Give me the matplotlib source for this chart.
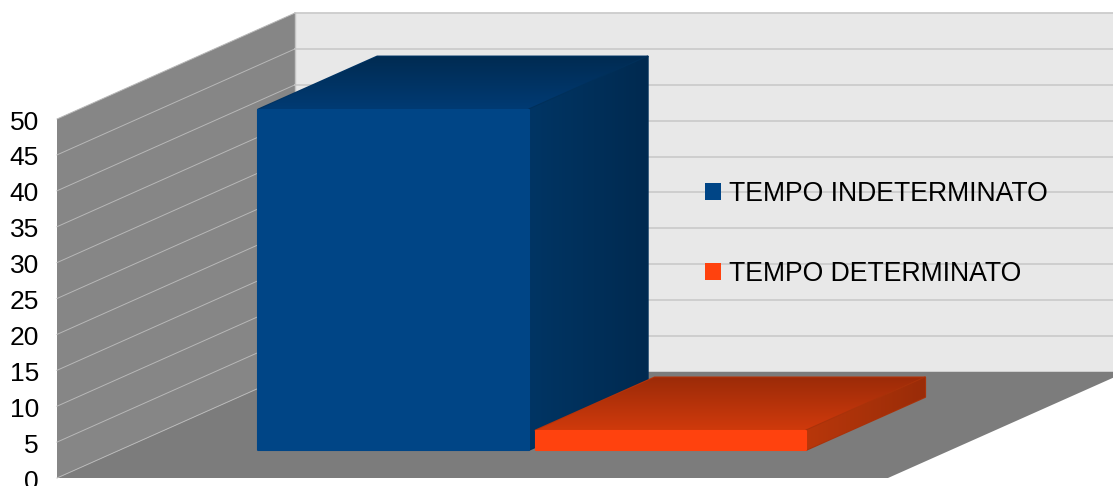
import matplotlib
matplotlib.use('Agg')
import matplotlib.pyplot as plt
import numpy as np
from matplotlib.patches import Patch, Polygon
from matplotlib.transforms import ScaledTranslation

plt.rcParams['font.family'] = ['Liberation Sans', 'DejaVu Sans']

# Dati
serie = ['TEMPO INDETERMINATO', 'TEMPO DETERMINATO']
valori = [47.4, 2.7]
tacche = [0, 5, 10, 15, 20, 25, 30, 35, 40, 45, 50]

# Colori: fronte, tetto (dietro, davanti), lato (sinistra, destra)
col_fronte = ['#004586', '#ff420e']
col_tetto = [('#002b52', '#003b74'), ('#9c2b08', '#d03a0c')]
col_lato = [('#003564', '#002a50'), ('#b8370b', '#9a2c08')]

# Prospettiva della scatola
DX = 238 / 831
DY = 106 / (359 / 50)
bar_sx = [0.1662, 0.5000]
bar_w = 0.3255
prof_a, prof_b = 0.265, 0.765


def proj(x, y, d):
    return x + d * DX, y + d * DY


def faccia(ax, punti, colore, z):
    ax.add_patch(Polygon(punti, closed=True, fc=colore, ec='none', zorder=z,
                         clip_on=False))


def sfumata(ax, punti, c0, c1, verticale, z):
    # gradiente ritagliato sul poligono della faccia
    punti = np.array(punti)
    c0 = np.array(matplotlib.colors.to_rgb(c0))
    c1 = np.array(matplotlib.colors.to_rgb(c1))
    t = np.linspace(0, 1, 64)[:, None]
    img = (c0 * (1 - t) + c1 * t)[:, None, :]
    if not verticale:
        img = img.transpose(1, 0, 2)
    bordo = Polygon(punti, closed=True, fc='none', ec=c0 * 0.5 + c1 * 0.5,
                    lw=1.5, joinstyle='round', zorder=z, clip_on=False)
    ax.add_patch(bordo)
    ext = [punti[:, 0].min(), punti[:, 0].max(),
           punti[:, 1].min(), punti[:, 1].max()]
    im = ax.imshow(img, extent=ext, origin='upper', aspect='auto', zorder=z,
                   interpolation='bilinear')
    im.set_clip_path(Polygon(punti, closed=True, transform=ax.transData))
    im.set_clip_box(ax.figure.bbox)


fig = plt.figure(figsize=(11.13, 4.86), dpi=100)
ax = fig.add_axes([57 / 1113, (486 - 478) / 486, 831 / 1113, 359 / 486])

# Pareti e pavimento
faccia(ax, [proj(0, 0, 1), proj(1, 0, 1), proj(1, 50, 1), proj(0, 50, 1)],
       '#e8e8e8', 1)
faccia(ax, [proj(0, 0, 0), proj(0, 0, 1), proj(0, 50, 1), proj(0, 50, 0)],
       '#868686', 1)
faccia(ax, [proj(0, 0, 0), proj(1, 0, 0), proj(1, 0, 1), proj(0, 0, 1)],
       '#7c7c7c', 2)

# Griglia su parete di fondo e parete laterale
for v in tacche:
    xs = [proj(0, v, 0)[0], proj(0, v, 1)[0], proj(1, v, 1)[0]]
    ys = [proj(0, v, 0)[1], proj(0, v, 1)[1], proj(1, v, 1)[1]]
    ax.plot(xs[:2], ys[:2], color='#b8b8b8', lw=0.7, zorder=2.5, clip_on=False)
    ax.plot(xs[1:], ys[1:], color='#cccccc', lw=1.3,
            zorder=1.5 if v == 0 else 1.2, clip_on=False)
ax.plot([proj(0, 0, 1)[0]] * 2, [proj(0, 0, 1)[1], proj(0, 50, 1)[1]],
        color='#c4c4c4', lw=1, zorder=1.5, clip_on=False)

# Barre
for i, val in enumerate(valori):
    x0, x1 = bar_sx[i], bar_sx[i] + bar_w
    z = 3 + i
    fronte = [proj(x0, 0, prof_a), proj(x1, 0, prof_a),
              proj(x1, val, prof_a), proj(x0, val, prof_a)]
    tetto = [proj(x0, val, prof_a), proj(x1, val, prof_a),
             proj(x1, val, prof_b), proj(x0, val, prof_b)]
    lato = [proj(x1, 0, prof_a), proj(x1, 0, prof_b),
            proj(x1, val, prof_b), proj(x1, val, prof_a)]
    sfumata(ax, tetto, *col_tetto[i], True, z)
    sfumata(ax, lato, *col_lato[i], False, z + 0.1)
    ax.add_patch(Polygon(fronte, closed=True, fc=col_fronte[i],
                         ec=col_fronte[i], lw=1.5, joinstyle='round',
                         zorder=z + 0.2, clip_on=False))

ax.set_xlim(0, 1)
ax.set_ylim(0, 50)
ax.set_xticks([])
ax.set_yticks(tacche)
ax.tick_params(axis='y', length=0, pad=13, labelsize=19, labelcolor='#000000')
sposta = ScaledTranslation(0, -1 / 100, fig.dpi_scale_trans)
for et in ax.get_yticklabels():
    et.set_transform(et.get_transform() + sposta)
for s in ax.spines.values():
    s.set_visible(False)
ax.patch.set_visible(False)

# Legenda
maniglie = [Patch(fc=c, ec='none') for c in col_fronte]
leg = ax.legend(maniglie, serie, loc='upper left', frameon=False, fontsize=19.2,
                bbox_to_anchor=((705 - 57) / 831, (478 - 181) / 359),
                borderaxespad=0, borderpad=0, handlelength=0.6,
                handleheight=0.6, handletextpad=0.3, labelspacing=2.02)
leg.set_zorder(6)
for t in leg.get_texts():
    t.set_color('#000000')

fig.savefig('out.png', dpi=100)
